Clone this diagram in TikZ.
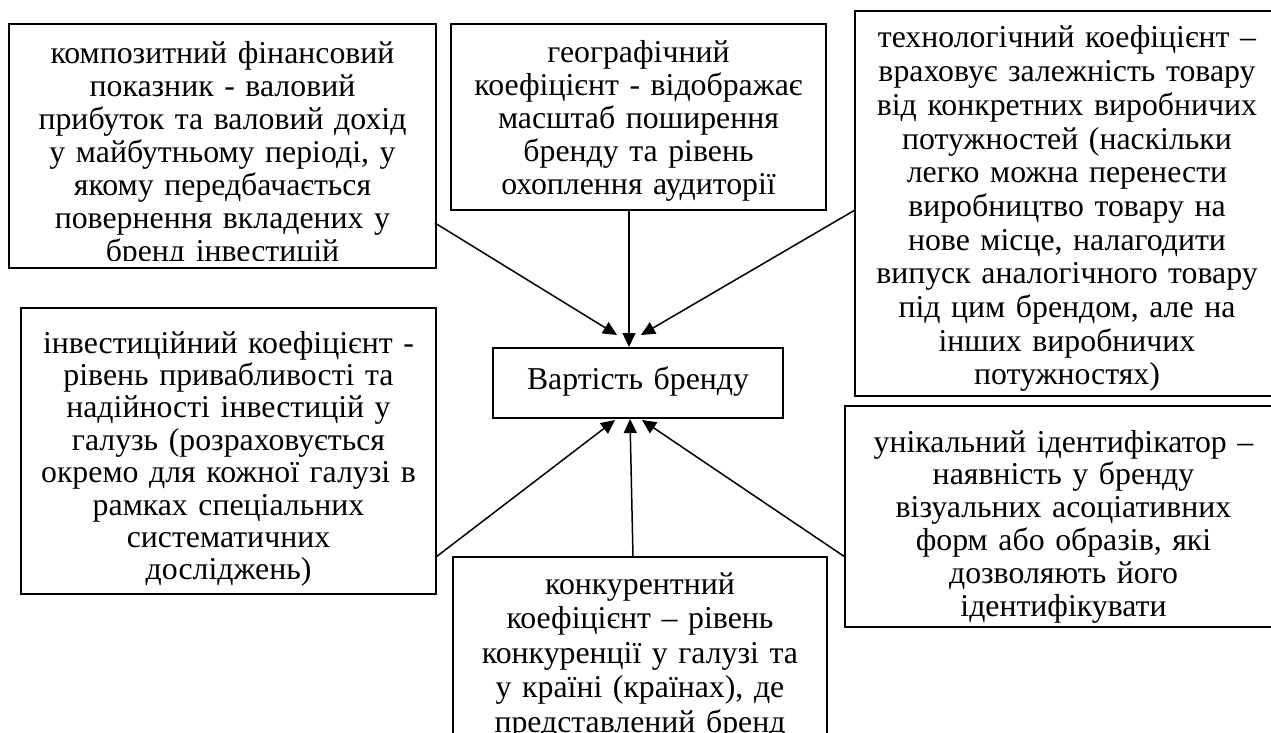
\documentclass[tikz,border=0pt]{standalone}
\usepackage{fontspec}
\setmainfont{Liberation Serif}
\usetikzlibrary{arrows.meta,calc}
\tikzset{
  box/.style={draw, line width=2pt, inner sep=0pt, rectangle},
  txt/.style={align=center, inner sep=0pt, anchor=base, text width=440pt,
    font=\fontsize{31.8}{32.8}\selectfont},
  arr/.style={line width=1.5pt, -{Triangle[length=14pt,width=13pt]}}
}
\begin{document}
\begin{tikzpicture}[x=1pt,y=-1pt]
\clip (0,0) rectangle (1271,733);
\fill[white] (0,0) rectangle (1271,733);
% boxes
\node[box, minimum width=427pt, minimum height=244pt] (b1) at (222.5,146) {};
\node[box, minimum width=375pt, minimum height=186pt] (b2) at (638.5,117) {};
\node[box, minimum width=425pt, minimum height=385pt] (b3) at (1067.5,203.5) {};
\node[box, minimum width=415pt, minimum height=286pt] (b4) at (228.5,451) {};
\node[box, minimum width=290pt, minimum height=70pt] (c) at (638,383) {};
\node[box, minimum width=374pt, minimum height=240pt] (b5) at (640,677) {};
\node[box, minimum width=437pt, minimum height=221pt] (b6) at (1063.5,516.5) {};
% texts
\begin{scope}
\clip (10,25) rectangle (434,260);
\node[txt, font=\fontsize{31.8}{33}\selectfont] (t1) at (222.5,64) {композитний фінансовий\\показник - валовий\\прибуток та валовий дохід\\у майбутньому періоді, у\\якому передбачається\\повернення вкладених у\\бренд інвестицій};
\end{scope}
\node[txt] (t2) at (638.5,63) {географічний\\коефіцієнт - відображає\\масштаб поширення\\бренду та рівень\\охоплення аудиторії};
\node[txt, font=\fontsize{31.8}{33.7}\selectfont] (t3) at (1067,48) {технологічний коефіцієнт –\\враховує залежність товару\\від конкретних виробничих\\потужностей (наскільки\\легко можна перенести\\виробництво товару на\\нове місце, налагодити\\випуск аналогічного товару\\під цим брендом, але на\\інших виробничих\\потужностях)};
\node[txt, font=\fontsize{31.8}{32.4}\selectfont] (t4) at (228.5,353) {інвестиційний коефіцієнт -\\рівень привабливості та\\надійності інвестицій у\\галузь (розраховується\\окремо для кожної галузі в\\рамках спеціальних\\систематичних\\досліджень)};
\node[txt] (tc) at (638,389) {Вартість бренду};
\node[txt, font=\fontsize{31.8}{34.5}\selectfont] (t5) at (640,594) {конкурентний\\коефіцієнт – рівень\\конкуренції у галузі та\\у країні (країнах), де\\представлений бренд};
\node[txt] (t6) at (1063.5,452) {унікальний ідентифікатор –\\наявність у бренду\\візуальних асоціативних\\форм або образів, які\\дозволяють його\\ідентифікувати};
% connector ends
\coordinate (s1) at (435,223);
\coordinate (e1) at (617,335);
\coordinate (s2) at (629,210);
\coordinate (e2) at (629,347);
\coordinate (s3) at (855,210);
\coordinate (e3) at (641,335);
\coordinate (s4) at (436,557);
\coordinate (e4) at (615,420);
\coordinate (s5) at (633,557);
\coordinate (e5) at (630,419);
\coordinate (s6) at (845,557);
\coordinate (e6) at (642,420);
\draw[arr] (s1) -- (e1);
\draw[arr] (s2) -- (e2);
\draw[arr] (s3) -- (e3);
\draw[arr] (s4) -- (e4);
\draw[arr] (s5) -- (e5);
\draw[arr] (s6) -- (e6);
\end{tikzpicture}
\end{document}
